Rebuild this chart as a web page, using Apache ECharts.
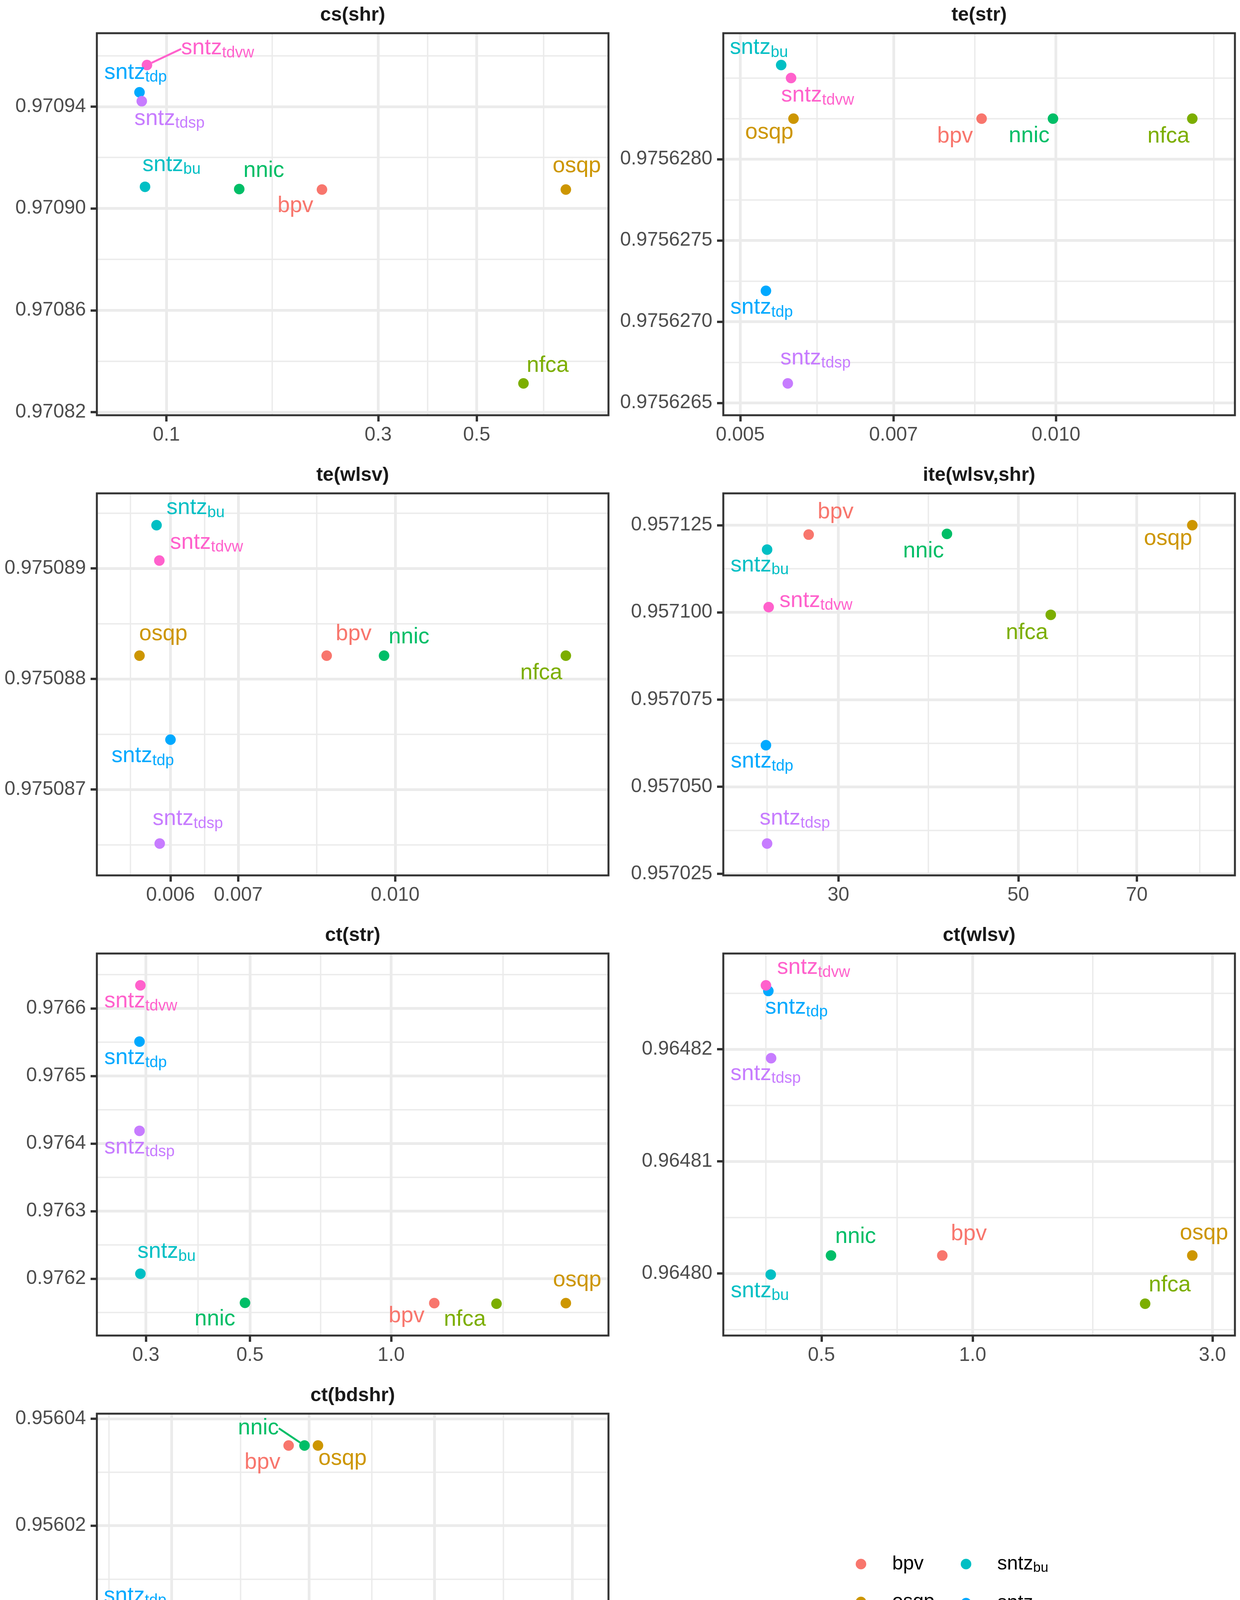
<!DOCTYPE html>
<html>
<head>
<meta charset="utf-8">
<script src="https://cdn.jsdelivr.net/npm/echarts@6.0.0/dist/echarts.min.js"></script>
<style>
html,body{margin:0;padding:0;background:#ffffff;}
#chart{width:3175px;height:4739px;}
</style>
</head>
<body>
<div id="chart"></div>
<script>
// ---------------- DATA ----------------
const methods = ['bpv', 'osqp', 'nfca', 'nnic', 'sntz_bu', 'sntz_tdp', 'sntz_tdsp', 'sntz_tdvw'];
const panelTitles = ['cs(shr)', 'te(str)', 'te(wlsv)', 'ite(wlsv,shr)', 'ct(str)', 'ct(wlsv)', 'ct(bdshr)'];
const xAxisTitle = 'Time in seconds';

// values in method order: bpv, osqp, nfca, nnic, sntz_bu, sntz_tdp, sntz_tdsp, sntz_tdvw
const csShrTime  = [0.2241, 0.7941, 0.6374, 0.1459, 0.0895, 0.08697, 0.0880, 0.0904];
const csShrScore = [0.9709074, 0.9709074, 0.9708313, 0.9709076, 0.9709085, 0.9709456, 0.9709421, 0.9709563];

const teStrTime  = [0.008494, 0.005620, 0.013490, 0.009935, 0.005470, 0.005290, 0.005550, 0.005590];
const teStrScore = [0.97562825, 0.97562825, 0.97562825, 0.97562825, 0.97562858, 0.97562719, 0.97562662, 0.97562850];

const teWlsvTime  = [0.008558, 0.005592, 0.014740, 0.009750, 0.005813, 0.006000, 0.005855, 0.005850];
const teWlsvScore = [0.97508821, 0.97508821, 0.97508821, 0.97508821, 0.97508939, 0.97508745, 0.97508651, 0.97508907];

const iteWlsvShrTime  = [27.57, 81.95, 54.83, 40.83, 24.50, 24.42, 24.50, 24.61];
const iteWlsvShrScore = [0.9571223, 0.9571250, 0.9570993, 0.9571225, 0.9571180, 0.9570619, 0.9570337, 0.9571015];

const ctStrTime  = [1.2357, 2.3572, 1.6771, 0.4879, 0.2920, 0.2907, 0.2907, 0.2920];
const ctStrScore = [0.9761638, 0.9761638, 0.9761629, 0.9761642, 0.9762073, 0.9765508, 0.9764188, 0.9766341];

const ctWlsvTime  = [0.8699, 2.7357, 2.2039, 0.5224, 0.3963, 0.3920, 0.3970, 0.3877];
const ctWlsvScore = [0.9648016, 0.9648016, 0.9647973, 0.9648016, 0.9647999, 0.9648252, 0.9648192, 0.9648257];

const ctBdshrTime  = [83.57, 108.05, 947.0, 96.03, 22.88, 22.64, 22.64, 22.64];
const ctBdshrScore = [0.9560350, 0.9560350, 0.9559789, 0.9560350, 0.9559754, 0.9560022, 0.9559994, 0.9560018];

// tick labels (major breaks) and minor grid breaks
const csShrXTicks = [0.1, 0.3, 0.5];
const csShrXMinor = [0.1732, 0.3873, 0.7071];
const csShrYTicks = [0.97082, 0.97086, 0.97090, 0.97094];
const csShrYMinor = [0.97084, 0.97088, 0.97092, 0.97096];

const teStrXTicks = [0.005, 0.007, 0.010];
const teStrXMinor = [0.005916, 0.008367, 0.014142];
const teStrYTicks = [0.9756265, 0.9756270, 0.9756275, 0.9756280];
const teStrYMinor = [0.97562675, 0.97562725, 0.97562775, 0.97562825, 0.9756285];

const teWlsvXTicks = [0.006, 0.007, 0.010];
const teWlsvXMinor = [0.005477, 0.006481, 0.008367, 0.014142];
const teWlsvYTicks = [0.975087, 0.975088, 0.975089];
const teWlsvYMinor = [0.9750865, 0.9750875, 0.9750885, 0.9750895];

const iteWlsvShrXTicks = [30, 50, 70];
const iteWlsvShrXMinor = [24.49, 38.73, 59.16, 83.67];
const iteWlsvShrYTicks = [0.957025, 0.957050, 0.957075, 0.957100, 0.957125];
const iteWlsvShrYMinor = [0.9570375, 0.9570625, 0.9570875, 0.9571125];

const ctStrXTicks = [0.3, 0.5, 1.0];
const ctStrXMinor = [0.3873, 0.7071, 1.7321];
const ctStrYTicks = [0.9762, 0.9763, 0.9764, 0.9765, 0.9766];
const ctStrYMinor = [0.97615, 0.97625, 0.97635, 0.97645, 0.97655, 0.97665];

const ctWlsvXTicks = [0.5, 1.0, 3.0];
const ctWlsvXMinor = [0.3873, 0.7071, 1.7321];
const ctWlsvYTicks = [0.96480, 0.96481, 0.96482];
const ctWlsvYMinor = [0.964795, 0.964805, 0.964815, 0.964825];

const ctBdshrXTicks = [30, 100, 300, 1000];
const ctBdshrXMinor = [17.32, 54.77, 173.2, 547.7];
const ctBdshrYTicks = [0.95598, 0.95600, 0.95602, 0.95604];
const ctBdshrYMinor = [0.95597, 0.95599, 0.95601, 0.95603];

// ---------------- STYLE / LAYOUT ----------------
const FONT = "'Liberation Sans', Arial, Helvetica, sans-serif";
const colors = ['#F8766D', '#CD9600', '#7CAE00', '#00BE67', '#00BFC4', '#00A9FF', '#C77CFF', '#FF61CC'];
const gridPos = [[248, 85], [1852, 85], [248, 1263], [1852, 1263], [248, 2441], [1852, 2441], [248, 3619]];
const PW = 1310, PH = 978;
const xDecimals = [1, 3, 3, 0, 1, 1, 0];
const yDecimals = [5, 7, 6, 6, 4, 5, 5];
// label offsets (px) from point centre, method order
const labelOffsets = [
  [[-68, 47], [28, -55], [62, -40], [63, -42], [68, -51], [-10, -45], [71, 50], [181, -38]],
  [[-68, 51], [-62, 41], [-61, 51], [-61, 50], [-57, -39], [-11, 48], [71, -59], [68, 50]],
  [[69, -50], [61, -50], [-63, 50], [64, -42], [100, -39], [-71, 47], [72, -58], [121, -41]],
  [[69, -52], [-62, 40], [-61, 51], [-60, 49], [-19, 45], [-10, 47], [71, -59], [121, -11]],
  [[-71, 38], [29, -54], [-81, 46], [-77, 47], [67, -51], [-10, 47], [0, 47], [1, 46]],
  [[68, -50], [30, -52], [63, -42], [63, -43], [-28, 47], [72, 47], [-14, 45], [122, -40]],
  [[-67, 49], [63, 39], [-62, 51], [-118, -39], [-20, 35], [-11, -58], [-1, 48], [199, -8]]
];
const segmentLabels = [[0, 7], [6, 3], [6, 7]];

const panels = [
  {time: csShrTime, score: csShrScore, xt: csShrXTicks, xm: csShrXMinor, yt: csShrYTicks, ym: csShrYMinor},
  {time: teStrTime, score: teStrScore, xt: teStrXTicks, xm: teStrXMinor, yt: teStrYTicks, ym: teStrYMinor},
  {time: teWlsvTime, score: teWlsvScore, xt: teWlsvXTicks, xm: teWlsvXMinor, yt: teWlsvYTicks, ym: teWlsvYMinor},
  {time: iteWlsvShrTime, score: iteWlsvShrScore, xt: iteWlsvShrXTicks, xm: iteWlsvShrXMinor, yt: iteWlsvShrYTicks, ym: iteWlsvShrYMinor},
  {time: ctStrTime, score: ctStrScore, xt: ctStrXTicks, xm: ctStrXMinor, yt: ctStrYTicks, ym: ctStrYMinor},
  {time: ctWlsvTime, score: ctWlsvScore, xt: ctWlsvXTicks, xm: ctWlsvXMinor, yt: ctWlsvYTicks, ym: ctWlsvYMinor},
  {time: ctBdshrTime, score: ctBdshrScore, xt: ctBdshrXTicks, xm: ctBdshrXMinor, yt: ctBdshrYTicks, ym: ctBdshrYMinor}
];

function richName(name) {
  const i = name.indexOf('_');
  if (i < 0) return '{m|' + name + '}';
  return '{m|' + name.slice(0, i) + '}{s|' + name.slice(i + 1) + '}';
}
const labelRich = {
  m: {fontSize: 57, lineHeight: 64, fontFamily: FONT},
  s: {fontSize: 40, lineHeight: 34, verticalAlign: 'bottom', fontFamily: FONT}
};
const legendRich = {
  m: {fontSize: 50, lineHeight: 56, fontFamily: FONT, color: '#000000'},
  s: {fontSize: 35, lineHeight: 30, verticalAlign: 'bottom', fontFamily: FONT, color: '#000000'}
};

const option = {
  animation: false,
  backgroundColor: '#ffffff',
  title: [],
  grid: [],
  xAxis: [],
  yAxis: [],
  series: [],
  legend: [
    {data: methods.slice(0, 4), orient: 'vertical', left: 2191, top: 3979, itemWidth: 150, itemHeight: 27,
     itemGap: 47, icon: 'circle', padding: 0, selectedMode: false, formatter: richName,
     textStyle: {fontSize: 50, color: '#000000', fontFamily: FONT, rich: legendRich}},
    {data: methods.slice(4), orient: 'vertical', left: 2460, top: 3979, itemWidth: 150, itemHeight: 27,
     itemGap: 47, icon: 'circle', padding: 0, selectedMode: false, formatter: richName,
     textStyle: {fontSize: 50, color: '#000000', fontFamily: FONT, rich: legendRich}}
  ]
};

option.title.push({
  text: xAxisTitle, left: 1704, top: 4674, textAlign: 'center', textVerticalAlign: 'top', padding: 0,
  textStyle: {fontSize: 61, fontWeight: 'normal', color: '#000000', fontFamily: FONT, lineHeight: 68}
});

panels.forEach((p, i) => {
  const gx = gridPos[i][0], gy = gridPos[i][1];
  option.title.push({
    text: panelTitles[i], left: gx + PW / 2, top: gy - 46 - 28, textAlign: 'center', textVerticalAlign: 'top', padding: 0,
    textStyle: {fontSize: 50, fontWeight: 'bold', color: '#1A1A1A', fontFamily: FONT, lineHeight: 56}
  });
  option.grid.push({
    left: gx, top: gy, width: PW, height: PH, show: true, borderColor: '#333333', borderWidth: 5,
    backgroundColor: 'transparent', containLabel: false, outerBoundsMode: 'none', z: 2
  });
  const lx = p.time.map(v => Math.log10(v));
  const lo = Math.min(...lx), hi = Math.max(...lx), pad = 0.1 * (hi - lo);
  const xmin = Math.pow(10, lo - pad), xmax = Math.pow(10, hi + pad);
  const ylo = Math.min(...p.score), yhi = Math.max(...p.score), ypad = 0.1 * (yhi - ylo);
  const ymin = ylo - ypad, ymax = yhi + ypad;
  const xd = xDecimals[i], yd = yDecimals[i];
  option.xAxis.push({
    type: 'log', logBase: 10, gridIndex: i, min: xmin, max: xmax,
    axisLine: {show: false}, splitLine: {show: false}, minorTick: {show: false}, minorSplitLine: {show: false},
    axisTick: {show: true, customValues: p.xt, length: 16, lineStyle: {color: '#333333', width: 6}},
    axisLabel: {show: true, customValues: p.xt, formatter: v => Number(v).toFixed(xd), fontSize: 50, color: '#4D4D4D',
      fontFamily: FONT, margin: 23, lineHeight: 56}
  });
  option.yAxis.push({
    type: 'value', gridIndex: i, min: ymin, max: ymax, scale: true,
    axisLine: {show: false}, splitLine: {show: false}, minorTick: {show: false}, minorSplitLine: {show: false},
    axisTick: {show: true, customValues: p.yt, length: 16, lineStyle: {color: '#333333', width: 6}},
    axisLabel: {show: true, customValues: p.yt, formatter: v => Number(v).toFixed(yd), fontSize: 50, color: '#4D4D4D',
      fontFamily: FONT, margin: 28}
  });
  // gridlines through the axes' scales
  const lines = [];
  p.xm.filter(v => v > xmin && v < xmax).forEach(v => lines.push({xAxis: v, lineStyle: {color: '#EBEBEB', width: 3.5, type: 'solid'}}));
  p.ym.filter(v => v > ymin && v < ymax).forEach(v => lines.push({yAxis: v, lineStyle: {color: '#EBEBEB', width: 3.5, type: 'solid'}}));
  p.xt.filter(v => v > xmin && v < xmax).forEach(v => lines.push({xAxis: v, lineStyle: {color: '#EBEBEB', width: 7, type: 'solid'}}));
  p.yt.filter(v => v > ymin && v < ymax).forEach(v => lines.push({yAxis: v, lineStyle: {color: '#EBEBEB', width: 7, type: 'solid'}}));

  methods.forEach((m, k) => {
    const off = labelOffsets[i][k];
    const seg = segmentLabels.some(s => s[0] === i && s[1] === k);
    const s = {
      type: 'scatter', name: m, xAxisIndex: i, yAxisIndex: i, z: 3,
      data: [[p.time[k], p.score[k]]],
      symbol: 'circle', symbolSize: 27,
      itemStyle: {color: colors[k], opacity: 1},
      label: {show: true, position: 'inside', formatter: () => richName(m), color: colors[k], fontFamily: FONT, rich: labelRich},
      labelLayout: params => ({
        x: params.rect.x + params.rect.width / 2 + off[0],
        y: params.rect.y + params.rect.height / 2 + off[1] - 5,
        align: 'center', verticalAlign: 'middle'
      }),
      labelLine: {show: seg, lineStyle: {color: colors[k], width: 5, opacity: 1}},
      emphasis: {disabled: true}, silent: true, animation: false
    };
    if (k === 0) {
      s.markLine = {
        silent: true, symbol: ['none', 'none'], z: 1, animation: false, precision: 20,
        label: {show: false}, emphasis: {disabled: true}, data: lines
      };
    }
    option.series.push(s);
  });
});

const chart = echarts.init(document.getElementById('chart'), null, {renderer: 'canvas', width: 3175, height: 4739});
chart.setOption(option);
</script>
</body>
</html>
